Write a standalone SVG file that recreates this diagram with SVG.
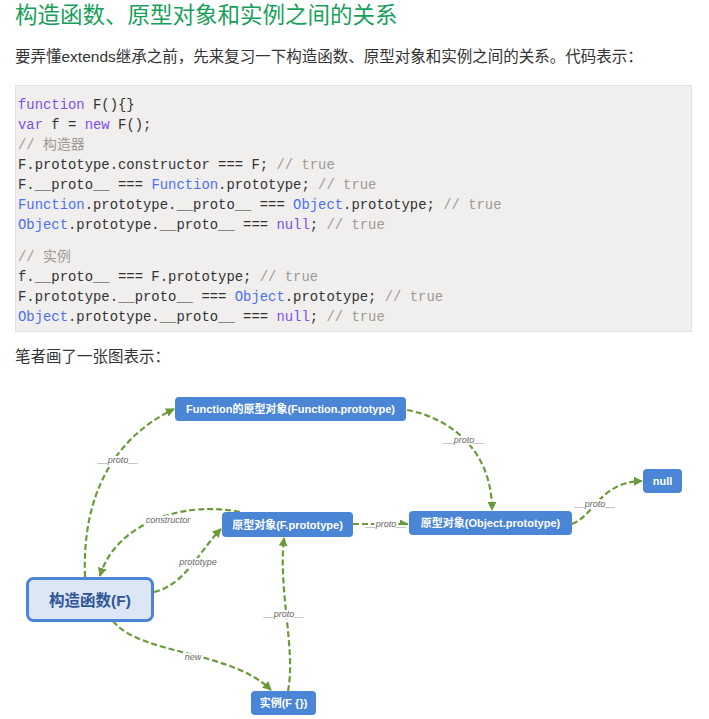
<svg xmlns="http://www.w3.org/2000/svg" width="709" height="719" viewBox="0 0 709 719">
<defs>
<style>
.title{font-family:"Liberation Sans","Noto Sans CJK SC",sans-serif;font-size:22.5px;fill:#17a05a}
.para{font-family:"Liberation Sans","Noto Sans CJK SC",sans-serif;font-size:15.5px;fill:#333}
.code{font-family:"Liberation Mono","Noto Sans CJK SC",monospace;font-size:13.9px;fill:#333;white-space:pre}
.kw{fill:#7e4fe6}
.bl{fill:#4c6ff2}
.cm{fill:#9e9a96}
.node rect{fill:#4a86d5}
.node text{font-family:"Liberation Sans","Noto Sans CJK SC",sans-serif;font-size:11px;font-weight:bold;fill:#fff;text-anchor:middle}
.edge{fill:none;stroke:#6b9a3a;stroke-width:2.2;stroke-dasharray:6 3;marker-end:url(#arr)}
.lbl{font-family:"Liberation Sans","Noto Sans CJK SC",sans-serif;font-size:9px;font-style:italic;fill:#666;text-anchor:middle;stroke:#fff;stroke-width:4;paint-order:stroke;stroke-linejoin:round}
</style>
<marker id="arr" viewBox="0 0 10 10" refX="9" refY="5" markerWidth="9" markerHeight="9" markerUnits="userSpaceOnUse" orient="auto">
<path d="M0,0 L10,5 L0,10 z" fill="#6b9a3a"/>
</marker>
</defs>
<rect width="709" height="719" fill="#fff"/>
<text class="title" x="15" y="23">构造函数、原型对象和实例之间的关系</text>
<text class="para" x="15" y="62">要弄懂extends继承之前，先来复习一下构造函数、原型对象和实例之间的关系。代码表示：</text>
<rect x="15.5" y="85.5" width="676" height="246" fill="#f0efee" stroke="#e3e2e1"/>
<text class="code" x="18" y="108.5"><tspan class="kw">function</tspan> F(){}</text>
<text class="code" x="18" y="128.5"><tspan class="kw">var</tspan> f = <tspan class="kw">new</tspan> F();</text>
<text class="code" x="18" y="148.5"><tspan class="cm">// 构造器</tspan></text>
<text class="code" x="18" y="168.5">F.prototype.constructor === F; <tspan class="cm">// true</tspan></text>
<text class="code" x="18" y="188.5">F.__proto__ === <tspan class="bl">Function</tspan>.prototype; <tspan class="cm">// true</tspan></text>
<text class="code" x="18" y="208.5"><tspan class="bl">Function</tspan>.prototype.__proto__ === <tspan class="bl">Object</tspan>.prototype; <tspan class="cm">// true</tspan></text>
<text class="code" x="18" y="228.5"><tspan class="bl">Object</tspan>.prototype.__proto__ === <tspan class="kw">null</tspan>; <tspan class="cm">// true</tspan></text>
<text class="code" x="18" y="260.5"><tspan class="cm">// 实例</tspan></text>
<text class="code" x="18" y="280.5">f.__proto__ === F.prototype; <tspan class="cm">// true</tspan></text>
<text class="code" x="18" y="300.5">F.prototype.__proto__ === <tspan class="bl">Object</tspan>.prototype; <tspan class="cm">// true</tspan></text>
<text class="code" x="18" y="320.5"><tspan class="bl">Object</tspan>.prototype.__proto__ === <tspan class="kw">null</tspan>; <tspan class="cm">// true</tspan></text>
<text class="para" x="15" y="362">笔者画了一张图表示：</text>

<g id="connectors">
<path class="edge" d="M85,577 C82,500 110,440 174,409"/>
<path class="edge" d="M407,410 C450,418 492,450 492,510"/>
<path class="edge" d="M240,512 C180,500 115,525 100,576"/>
<path class="edge" d="M154,592 C185,585 200,550 221,529"/>
<path class="edge" d="M353,524 L408,524"/>
<path class="edge" d="M572,524 C595,515 600,482 642,481"/>
<path class="edge" d="M113,621 C140,655 230,650 271,690"/>
<path class="edge" d="M288,691 C296,650 278,590 284,538"/>
<text class="lbl" x="118" y="463">__proto__</text>
<text class="lbl" x="464" y="443">__proto__</text>
<text class="lbl" x="168" y="523">constructor</text>
<text class="lbl" x="198" y="565">prototype</text>
<text class="lbl" x="386" y="527">__proto__</text>
<text class="lbl" x="595" y="507">__proto__</text>
<text class="lbl" x="193" y="660">new</text>
<text class="lbl" x="284" y="617">__proto__</text>
</g>

<g id="node-function-prototype" class="node">
<rect x="175" y="397" width="231" height="24" rx="4"/>
<text x="290.5" y="413">Function的原型对象(Function.prototype)</text>
</g>
<g id="node-f-prototype" class="node">
<rect x="222" y="512" width="131" height="25" rx="4"/>
<text x="287.5" y="528.5">原型对象(F.prototype)</text>
</g>
<g id="node-object-prototype" class="node">
<rect x="409" y="511" width="163" height="24" rx="4"/>
<text x="490.5" y="527">原型对象(Object.prototype)</text>
</g>
<g id="node-null" class="node">
<rect x="643" y="469" width="39" height="24" rx="4"/>
<text x="662.5" y="485">null</text>
</g>
<g id="node-instance" class="node">
<rect x="251" y="691" width="65" height="24" rx="4"/>
<text x="283.5" y="707">实例(F {})</text>
</g>
<g id="node-constructor">
<rect x="27.5" y="578.5" width="125" height="42" rx="6" fill="#dce6f5" stroke="#4a86d5" stroke-width="3"/>
<text x="90" y="605.5" text-anchor="middle" font-family="Liberation Sans, Noto Sans CJK SC, sans-serif" font-size="15.5" font-weight="bold" fill="#2f5597">构造函数(F)</text>
</g>
</svg>
